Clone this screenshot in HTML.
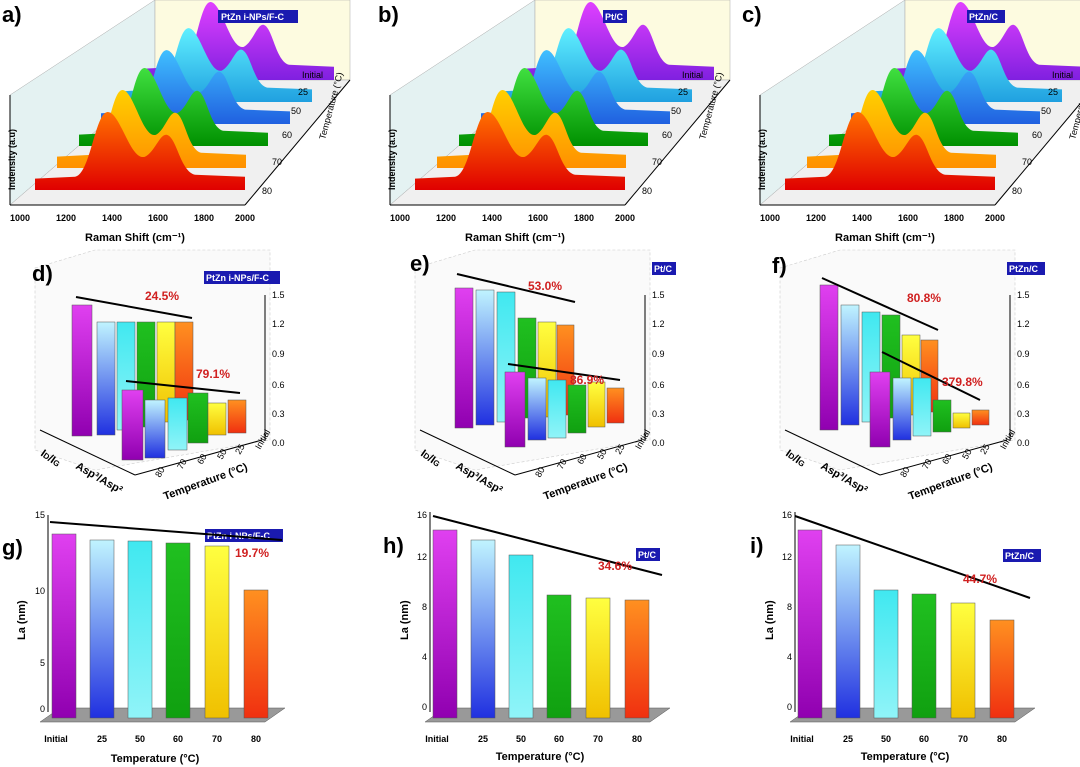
<!DOCTYPE html><html><head><meta charset="utf-8"><style>
body{margin:0;background:#fff}svg{display:block;font-family:"Liberation Sans",sans-serif}
.pl{font-weight:bold;font-size:22px}.t{font-size:11px;font-weight:bold}.s{font-size:9px}
.tb{fill:#1a1ab0}.tt{fill:#fff;font-size:9px;font-weight:bold}.r{fill:#d02020;font-weight:bold;font-size:12px}
</style></head><body>
<svg width="1080" height="767" viewBox="0 0 1080 767">
<defs>
<path id="sp" d="M0,0 L0,-12 L40,-14 C55,-16 60,-80 72,-82 C85,-84 95,-30 110,-35 C120,-40 125,-60 132,-58 C142,-55 145,-20 160,-16 L210,-14 L210,0 Z"/>
<linearGradient id="gm" x1="0" y1="0" x2="0" y2="1"><stop offset="0" stop-color="#e040f0"/><stop offset="1" stop-color="#9000b0"/></linearGradient>
<linearGradient id="gb" x1="0" y1="0" x2="0" y2="1"><stop offset="0" stop-color="#c0f4ff"/><stop offset="1" stop-color="#2030e0"/></linearGradient>
<linearGradient id="gc" x1="0" y1="0" x2="0" y2="1"><stop offset="0" stop-color="#40e8f0"/><stop offset="1" stop-color="#90f4f8"/></linearGradient>
<linearGradient id="gg" x1="0" y1="0" x2="0" y2="1"><stop offset="0" stop-color="#20c020"/><stop offset="1" stop-color="#10a010"/></linearGradient>
<linearGradient id="gy" x1="0" y1="0" x2="0" y2="1"><stop offset="0" stop-color="#ffff40"/><stop offset="1" stop-color="#f0c000"/></linearGradient>
<linearGradient id="go" x1="0" y1="0" x2="0" y2="1"><stop offset="0" stop-color="#ff9020"/><stop offset="1" stop-color="#f03010"/></linearGradient>
<linearGradient id="sr" x1="0" y1="0" x2="0" y2="1"><stop offset="0" stop-color="#ff7000"/><stop offset="1" stop-color="#e00000"/></linearGradient>
<linearGradient id="so" x1="0" y1="0" x2="0" y2="1"><stop offset="0" stop-color="#ffd000"/><stop offset="1" stop-color="#ff9000"/></linearGradient>
<linearGradient id="sg" x1="0" y1="0" x2="0" y2="1"><stop offset="0" stop-color="#40e040"/><stop offset="1" stop-color="#009000"/></linearGradient>
<linearGradient id="sb" x1="0" y1="0" x2="0" y2="1"><stop offset="0" stop-color="#40c0ff"/><stop offset="1" stop-color="#2060e0"/></linearGradient>
<linearGradient id="sc" x1="0" y1="0" x2="0" y2="1"><stop offset="0" stop-color="#60f0ff"/><stop offset="1" stop-color="#20a0e0"/></linearGradient>
<linearGradient id="sm" x1="0" y1="0" x2="0" y2="1"><stop offset="0" stop-color="#e040ff"/><stop offset="1" stop-color="#8020e0"/></linearGradient>
<g id="wf">
<polygon points="10,95 155,0 155,80 10,205" fill="#e4f2f2" stroke="#aaa" stroke-width=".5"/>
<polygon points="155,0 350,0 350,80 155,80" fill="#fdfbe0" stroke="#aaa" stroke-width=".5"/>
<polygon points="10,205 245,205 350,80 155,80" fill="#f0f0f0" stroke="#aaa" stroke-width=".5"/>
<use href="#sp" transform="translate(145,80) scale(.9,.95)" fill="url(#sm)"/>
<use href="#sp" transform="translate(123,102) scale(.9,.9)" fill="url(#sc)"/>
<use href="#sp" transform="translate(101,124) scale(.9,.9)" fill="url(#sb)"/>
<use href="#sp" transform="translate(79,146) scale(.9,.95)" fill="url(#sg)"/>
<use href="#sp" transform="translate(57,168) scale(.9,.95)" fill="url(#so)"/>
<use href="#sp" transform="translate(35,190) scale(1,.95)" fill="url(#sr)"/>
<line x1="10" y1="205" x2="245" y2="205" stroke="#000"/><line x1="10" y1="95" x2="10" y2="205" stroke="#000"/>
<line x1="245" y1="205" x2="350" y2="80" stroke="#000"/>
<g class="s" font-weight="bold" text-anchor="middle"><text x="20" y="221">1000</text><text x="66" y="221">1200</text><text x="112" y="221">1400</text><text x="158" y="221">1600</text><text x="204" y="221">1800</text><text x="245" y="221">2000</text></g>
<text x="135" y="241" class="t" text-anchor="middle">Raman Shift (cm⁻¹)</text>
<text transform="translate(15,190) rotate(-90)" class="s" font-weight="bold">Indensity (a.u)</text>
<g class="s"><text x="262" y="194">80</text><text x="272" y="165">70</text><text x="282" y="138">60</text><text x="291" y="114">50</text><text x="298" y="95">25</text><text x="302" y="78">Initial</text></g>
<text transform="translate(325,140) rotate(-75)" class="s">Temperature (°C)</text>
</g>
<g id="b3">
<polygon points="35,268 95,250 270,250 270,440 95,470 35,450" fill="#fafafa" stroke="#ccc" stroke-width=".6" stroke-dasharray="3,2"/>
<line x1="265" y1="295" x2="265" y2="440" stroke="#000"/>
<g class="s" font-size="8"><text x="272" y="298">1.5</text><text x="272" y="327">1.2</text><text x="272" y="357">0.9</text><text x="272" y="388">0.6</text><text x="272" y="417">0.3</text><text x="272" y="446">0.0</text></g>
<line x1="40" y1="430" x2="135" y2="475" stroke="#000"/><line x1="135" y1="475" x2="262" y2="440" stroke="#000"/>
<text transform="translate(40,455) rotate(35)" class="t">I<tspan font-size="8">D</tspan>/I<tspan font-size="8">G</tspan></text>
<text transform="translate(75,468) rotate(30)" class="t">Asp³/Asp²</text>
<text transform="translate(165,500) rotate(-20)" class="t">Temperature (°C)</text>
<g class="s" font-size="10"><text transform="translate(160,478) rotate(-60)">80</text><text transform="translate(182,470) rotate(-60)">70</text><text transform="translate(202,465) rotate(-60)">60</text><text transform="translate(222,460) rotate(-60)">50</text><text transform="translate(240,455) rotate(-60)">25</text><text transform="translate(260,450) rotate(-60)">Initial</text></g>
</g>
</defs>
<!-- row 1 -->
<use href="#wf"/><use href="#wf" x="380"/><use href="#wf" x="750"/>
<text x="2" y="22" class="pl">a)</text><text x="378" y="22" class="pl">b)</text><text x="742" y="22" class="pl">c)</text>
<rect x="218" y="10" width="80" height="13" class="tb"/><text x="221" y="20" class="tt">PtZn i-NPs/F-C</text>
<rect x="603" y="10" width="24" height="13" class="tb"/><text x="605" y="20" class="tt">Pt/C</text>
<rect x="967" y="10" width="38" height="13" class="tb"/><text x="969" y="20" class="tt">PtZn/C</text>
<!-- row 2 -->
<use href="#b3"/><use href="#b3" x="380"/><use href="#b3" x="745"/>
<text x="32" y="281" class="pl">d)</text><text x="410" y="271" class="pl">e)</text><text x="772" y="273" class="pl">f)</text>
<rect x="204" y="271" width="76" height="13" class="tb"/><text x="206" y="281" class="tt">PtZn i-NPs/F-C</text>
<rect x="652" y="262" width="24" height="13" class="tb"/><text x="654" y="272" class="tt">Pt/C</text>
<rect x="1007" y="262" width="38" height="13" class="tb"/><text x="1009" y="272" class="tt">PtZn/C</text>
<!-- d bars -->
<g stroke="#555" stroke-width=".5">
<rect x="72" y="305" width="20" height="131" fill="url(#gm)"/><rect x="97" y="322" width="18" height="113" fill="url(#gb)"/><rect x="117" y="322" width="18" height="108" fill="url(#gc)"/><rect x="137" y="322" width="18" height="105" fill="url(#gg)"/><rect x="157" y="322" width="18" height="100" fill="url(#gy)"/><rect x="175" y="322" width="18" height="98" fill="url(#go)"/>
<rect x="122" y="390" width="21" height="70" fill="url(#gm)"/><rect x="145" y="400" width="20" height="58" fill="url(#gb)"/><rect x="168" y="398" width="19" height="52" fill="url(#gc)"/><rect x="188" y="393" width="20" height="50" fill="url(#gg)"/><rect x="208" y="403" width="18" height="32" fill="url(#gy)"/><rect x="228" y="400" width="18" height="33" fill="url(#go)"/>
</g>
<line x1="192" y1="318" x2="76" y2="297" stroke="#000" stroke-width="2"/><text x="145" y="300" class="r">24.5%</text>
<line x1="240" y1="393" x2="126" y2="381" stroke="#000" stroke-width="2"/><text x="196" y="378" class="r">79.1%</text>
<!-- e bars -->
<g stroke="#555" stroke-width=".5">
<rect x="455" y="288" width="18" height="140" fill="url(#gm)"/><rect x="476" y="290" width="18" height="135" fill="url(#gb)"/><rect x="497" y="292" width="18" height="130" fill="url(#gc)"/><rect x="518" y="318" width="18" height="100" fill="url(#gg)"/><rect x="538" y="322" width="18" height="95" fill="url(#gy)"/><rect x="557" y="325" width="17" height="90" fill="url(#go)"/>
<rect x="505" y="372" width="20" height="75" fill="url(#gm)"/><rect x="528" y="378" width="18" height="62" fill="url(#gb)"/><rect x="548" y="380" width="18" height="58" fill="url(#gc)"/><rect x="568" y="385" width="18" height="48" fill="url(#gg)"/><rect x="588" y="382" width="17" height="45" fill="url(#gy)"/><rect x="607" y="388" width="17" height="35" fill="url(#go)"/>
</g>
<line x1="575" y1="302" x2="457" y2="274" stroke="#000" stroke-width="2"/><text x="528" y="290" class="r">53.0%</text>
<line x1="620" y1="380" x2="508" y2="364" stroke="#000" stroke-width="2"/><text x="570" y="384" class="r">86.9%</text>
<!-- f bars -->
<g stroke="#555" stroke-width=".5">
<rect x="820" y="285" width="18" height="145" fill="url(#gm)"/><rect x="841" y="305" width="18" height="120" fill="url(#gb)"/><rect x="862" y="312" width="18" height="110" fill="url(#gc)"/><rect x="882" y="315" width="18" height="103" fill="url(#gg)"/><rect x="902" y="335" width="18" height="80" fill="url(#gy)"/><rect x="921" y="340" width="17" height="72" fill="url(#go)"/>
<rect x="870" y="372" width="20" height="75" fill="url(#gm)"/><rect x="893" y="378" width="18" height="62" fill="url(#gb)"/><rect x="913" y="378" width="18" height="58" fill="url(#gc)"/><rect x="933" y="400" width="18" height="32" fill="url(#gg)"/><rect x="953" y="413" width="17" height="15" fill="url(#gy)"/><rect x="972" y="410" width="17" height="15" fill="url(#go)"/>
</g>
<line x1="938" y1="330" x2="822" y2="278" stroke="#000" stroke-width="2"/><text x="907" y="302" class="r">80.8%</text>
<line x1="980" y1="400" x2="882" y2="352" stroke="#000" stroke-width="2"/><text x="942" y="386" class="r">379.8%</text>
<!-- row 3 -->
<text x="2" y="555" class="pl">g)</text><text x="383" y="553" class="pl">h)</text><text x="750" y="553" class="pl">i)</text>
<rect x="205" y="529" width="78" height="13" class="tb"/><text x="207" y="539" class="tt">PtZn i-NPs/F-C</text>
<rect x="636" y="548" width="24" height="13" class="tb"/><text x="638" y="558" class="tt">Pt/C</text>
<rect x="1003" y="549" width="38" height="13" class="tb"/><text x="1005" y="559" class="tt">PtZn/C</text>
<g stroke="#555" stroke-width=".5">
<!-- g -->
<polygon points="40,722 265,722 285,708 60,708" fill="#999"/>
<rect x="52" y="534" width="24" height="184" fill="url(#gm)"/><rect x="90" y="540" width="24" height="178" fill="url(#gb)"/><rect x="128" y="541" width="24" height="177" fill="url(#gc)"/><rect x="166" y="543" width="24" height="175" fill="url(#gg)"/><rect x="205" y="546" width="24" height="172" fill="url(#gy)"/><rect x="244" y="590" width="24" height="128" fill="url(#go)"/>
<!-- h -->
<polygon points="425,722 650,722 670,708 445,708" fill="#999"/>
<rect x="433" y="530" width="24" height="188" fill="url(#gm)"/><rect x="471" y="540" width="24" height="178" fill="url(#gb)"/><rect x="509" y="555" width="24" height="163" fill="url(#gc)"/><rect x="547" y="595" width="24" height="123" fill="url(#gg)"/><rect x="586" y="598" width="24" height="120" fill="url(#gy)"/><rect x="625" y="600" width="24" height="118" fill="url(#go)"/>
<!-- i -->
<polygon points="790,722 1015,722 1035,708 810,708" fill="#999"/>
<rect x="798" y="530" width="24" height="188" fill="url(#gm)"/><rect x="836" y="545" width="24" height="173" fill="url(#gb)"/><rect x="874" y="590" width="24" height="128" fill="url(#gc)"/><rect x="912" y="594" width="24" height="124" fill="url(#gg)"/><rect x="951" y="603" width="24" height="115" fill="url(#gy)"/><rect x="990" y="620" width="24" height="98" fill="url(#go)"/>
</g>
<g stroke="#000"><line x1="48" y1="515" x2="48" y2="712"/><line x1="430" y1="512" x2="430" y2="712"/><line x1="795" y1="512" x2="795" y2="712"/></g>
<g class="s" font-size="10" text-anchor="end"><text x="45" y="518">15</text><text x="45" y="594">10</text><text x="45" y="666">5</text><text x="45" y="712">0</text>
<text x="427" y="518">16</text><text x="427" y="560">12</text><text x="427" y="610">8</text><text x="427" y="660">4</text><text x="427" y="710">0</text>
<text x="792" y="518">16</text><text x="792" y="560">12</text><text x="792" y="610">8</text><text x="792" y="660">4</text><text x="792" y="710">0</text></g>
<g class="t" font-size="10"><text transform="translate(25,640) rotate(-90)">La (nm)</text><text transform="translate(408,640) rotate(-90)">La (nm)</text><text transform="translate(773,640) rotate(-90)">La (nm)</text></g>
<g class="s" font-weight="bold" text-anchor="middle">
<text x="56" y="742">Initial</text><text x="102" y="742">25</text><text x="140" y="742">50</text><text x="178" y="742">60</text><text x="217" y="742">70</text><text x="256" y="742">80</text>
<text x="437" y="742">Initial</text><text x="483" y="742">25</text><text x="521" y="742">50</text><text x="559" y="742">60</text><text x="598" y="742">70</text><text x="637" y="742">80</text>
<text x="802" y="742">Initial</text><text x="848" y="742">25</text><text x="886" y="742">50</text><text x="924" y="742">60</text><text x="963" y="742">70</text><text x="1002" y="742">80</text></g>
<g class="t" text-anchor="middle"><text x="155" y="762">Temperature (°C)</text><text x="540" y="760">Temperature (°C)</text><text x="905" y="760">Temperature (°C)</text></g>
<g stroke="#000" stroke-width="2"><line x1="50" y1="522" x2="282" y2="540"/><line x1="433" y1="516" x2="662" y2="575"/><line x1="795" y1="516" x2="1030" y2="598"/></g>
<text x="235" y="557" class="r">19.7%</text><text x="598" y="570" class="r">34.6%</text><text x="963" y="583" class="r">44.7%</text>
</svg>
</body></html>
